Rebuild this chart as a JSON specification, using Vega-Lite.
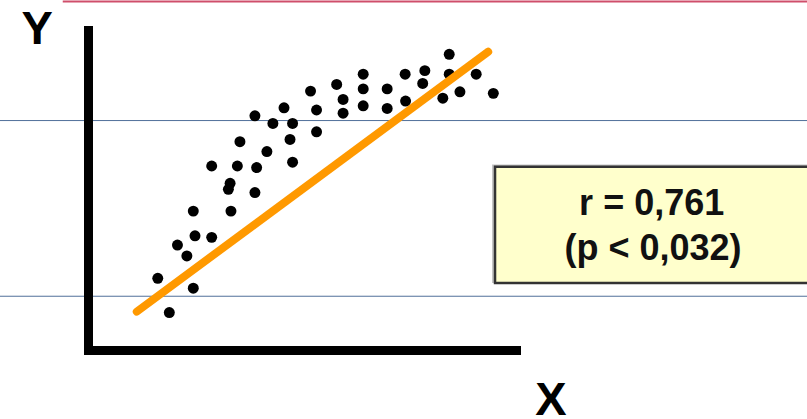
{
  "$schema": "https://vega.github.io/schema/vega-lite/v6.json",
  "width": 428,
  "height": 320,
  "autosize": {"type": "none"},
  "padding": {"left": 88, "top": 30, "right": 291, "bottom": 69},
  "background": "white",
  "config": {"view": {"stroke": null}},
  "encoding": {
    "x": {
      "field": "x", "type": "quantitative",
      "scale": {"domain": [0, 100], "nice": false, "zero": false},
      "axis": {"title": "X", "ticks": false, "labels": false, "grid": false, "domainColor": "#000000", "domainWidth": 9, "domainCap": "square", "titleFont": "Liberation Sans", "titleFontWeight": "bold", "titleFontSize": 47, "titleColor": "#000000", "titleX": 462.5, "titleY": 64, "titleAlign": "center", "titleBaseline": "alphabetic", "zindex": 1}
    },
    "y": {
      "field": "y", "type": "quantitative",
      "scale": {"domain": [0, 100], "nice": false, "zero": false},
      "axis": {"title": "Y", "ticks": false, "labels": false, "grid": false, "domainColor": "#000000", "domainWidth": 9, "domainCap": "square", "titleFont": "Liberation Sans", "titleFontWeight": "bold", "titleFontSize": 47, "titleColor": "#000000", "titleAngle": 0, "titleX": -51.3, "titleY": 13.3, "titleAlign": "center", "titleBaseline": "alphabetic", "zindex": 1}
    }
  },
  "layer": [
    {
      "data": {"values": [{"x": -21, "x2": 170, "y": 71.7}, {"x": -21, "x2": 170, "y": 16.8}]},
      "mark": {"type": "rule", "color": "#50709a", "strokeWidth": 1},
      "encoding": {"x2": {"field": "x2"}}
    },
    {
      "data": {"values": [{"x": -5.9, "x2": 170, "y": 108.9}]},
      "mark": {"type": "rule", "color": "#cf4f6b", "strokeWidth": 2},
      "encoding": {"x2": {"field": "x2"}}
    },
    {
      "data": {"values": [{"x": 94.4, "x2": 170, "y": 20.9, "y2": 58.0}]},
      "mark": {"type": "rect", "color": "#c4c4c4"},
      "encoding": {"x2": {"field": "x2"}, "y2": {"field": "y2"}}
    },
    {
      "data": {"values": [{"x": 95.1, "x2": 170, "y": 20.9, "y2": 57.3}]},
      "mark": {"type": "rect", "fill": "#ffffcc", "stroke": "#333333", "strokeWidth": 2.5},
      "encoding": {"x2": {"field": "x2"}, "y2": {"field": "y2"}}
    },
    {
      "data": {"values": [
        {"x": 84.4, "y": 92.4}, {"x": 84.4, "y": 86.2}, {"x": 90.7, "y": 86.2}, {"x": 94.7, "y": 80.2},
        {"x": 86.9, "y": 80.7}, {"x": 82.9, "y": 78.7}, {"x": 78.7, "y": 87.3}, {"x": 78.2, "y": 83.3},
        {"x": 74.1, "y": 86.2}, {"x": 74.2, "y": 77.8}, {"x": 69.9, "y": 81.6}, {"x": 69.9, "y": 75.5},
        {"x": 64.3, "y": 86.2}, {"x": 64.3, "y": 81.6}, {"x": 64.3, "y": 76.3}, {"x": 58.1, "y": 83.0},
        {"x": 59.6, "y": 78.3}, {"x": 59.6, "y": 74.0}, {"x": 52.0, "y": 80.9}, {"x": 53.4, "y": 75.0},
        {"x": 53.4, "y": 68.2}, {"x": 45.8, "y": 75.7}, {"x": 47.8, "y": 70.8}, {"x": 47.2, "y": 65.8},
        {"x": 47.8, "y": 58.7}, {"x": 39.0, "y": 73.2}, {"x": 43.2, "y": 70.8}, {"x": 41.8, "y": 62.0},
        {"x": 35.5, "y": 65.1}, {"x": 34.9, "y": 57.5}, {"x": 39.4, "y": 57.0}, {"x": 28.9, "y": 57.5},
        {"x": 33.2, "y": 52.1}, {"x": 32.8, "y": 50.2}, {"x": 39.0, "y": 49.2}, {"x": 33.4, "y": 43.4},
        {"x": 24.6, "y": 43.4}, {"x": 25.0, "y": 35.7}, {"x": 28.9, "y": 35.2}, {"x": 20.9, "y": 32.8},
        {"x": 23.1, "y": 29.4}, {"x": 16.3, "y": 22.4}, {"x": 24.6, "y": 19.3}, {"x": 19.0, "y": 11.7}
      ]},
      "mark": {"type": "circle", "color": "#000000", "opacity": 1, "size": 120}
    },
    {
      "data": {"values": [{"x": 11.4, "y": 12.0}, {"x": 93.5, "y": 93.2}]},
      "mark": {"type": "line", "color": "#ff9900", "strokeWidth": 8, "strokeCap": "round"}
    },
    {
      "data": {"values": [{"x": 131.7, "y": 42.2, "label": "r = 0,761"}, {"x": 132.0, "y": 28.1, "label": "(p < 0,032)"}]},
      "mark": {"type": "text", "font": "Liberation Sans", "fontWeight": "bold", "fontSize": 36, "color": "#111111", "align": "center", "baseline": "alphabetic"},
      "encoding": {"text": {"field": "label"}}
    }
  ]
}
